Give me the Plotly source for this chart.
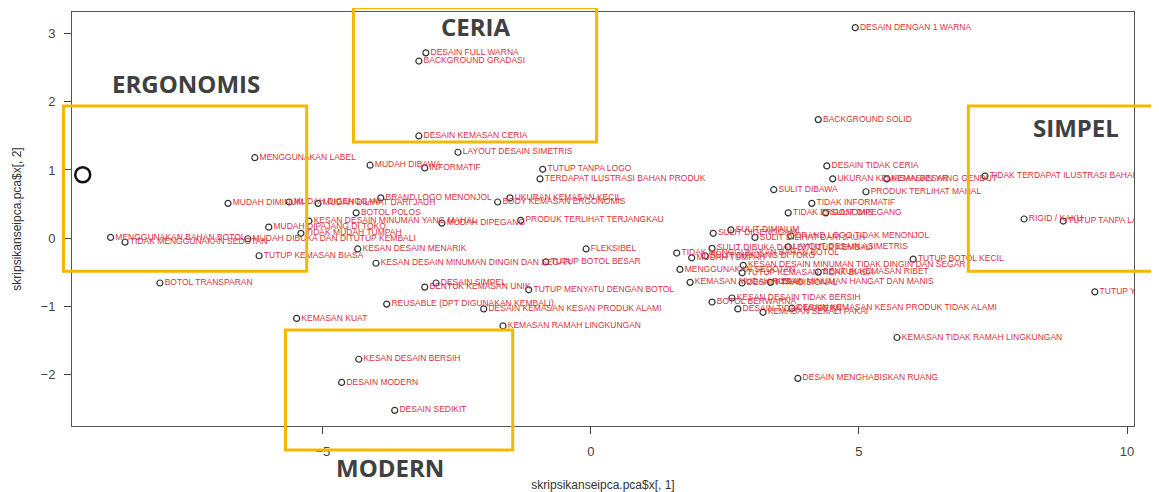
import plotly.graph_objects as go

# PCA scores (PC1, PC2)
labels = [
    "DESAIN DENGAN 1 WARNA", "DESAIN FULL WARNA", "BACKGROUND GRADASI", "DESAIN KEMASAN CERIA",
    "LAYOUT DESAIN SIMETRIS", "BACKGROUND SOLID", "MENGGUNAKAN LABEL", "MUDAH DIBAWA", "INFORMATIF",
    "TUTUP TANPA LOGO", "TERDAPAT ILUSTRASI BAHAN PRODUK", "DESAIN TIDAK CERIA", "UKURAN KEMASAN BESAR",
    "KEMASAN YANG GENDUT", "TIDAK TERDAPAT ILUSTRASI BAHAN PRODUK", "SULIT DIBAWA", "PRODUK TERLIHAT MAHAL",
    "TIDAK INFORMATIF", "TIDAK ERGONOMIS", "SULIT DIPEGANG", "RIGID / KAKU", "TUTUP TANPA LABEL",
    "TUTUP YANG RIBET", "MUDAH DIMINUM", "MUDAH DIGENGGAM", "MUDAH DILIHAT DARI JAUH", "BRAND LOGO MENONJOL",
    "BOTOL POLOS", "KESAN DESAIN MINUMAN YANG MAHAL", "MUDAH DIPEGANG", "PRODUK TERLIHAT TERJANGKAU",
    "UKURAN KEMASAN KECIL", "BODY KEMASAN ERGONOMIS", "MUDAH DIPAJANG DI TOKO", "TIDAK MUDAH TUMPAH",
    "MUDAH DIBUKA DAN DITUTUP KEMBALI", "MENGGUNAKAN BAHAN BOTOL", "TIDAK MENGGUNAKAN SEDOTAN",
    "TUTUP KEMASAN BIASA", "KESAN DESAIN MENARIK", "KESAN DESAIN MINUMAN DINGIN DAN SEGAR",
    "BOTOL TRANSPARAN", "FLEKSIBEL", "TUTUP BOTOL BESAR", "DESAIN SIMPEL", "BENTUK KEMASAN UNIK",
    "TUTUP MENYATU DENGAN BOTOL", "REUSABLE (DPT DIGUNAKAN KEMBALI)", "DESAIN KEMASAN KESAN PRODUK ALAMI",
    "KEMASAN RAMAH LINGKUNGAN", "KEMASAN KUAT", "KESAN DESAIN BERSIH", "DESAIN MODERN", "DESAIN SEDIKIT",
    "SULIT DIGENGGAM", "SULIT DIMINUM", "SULIT DILIHAT DARI JAUH", "BRAND LOGO TIDAK MENONJOL",
    "SULIT DIBUKA DAN DITUTUP KEMBALI", "LAYOUT DESAIN ASIMETRIS", "TIDAK MENGGUNAKAN BAHAN BOTOL",
    "MUDAH TUMPAH", "SULIT DIPAJANG DI TOKO", "MENGGUNAKAN SEDOTAN",
    "KESAN DESAIN MINUMAN TIDAK DINGIN DAN SEGAR", "TUTUP KEMASAN TIDAK BIASA", "BENTUK KEMASAN RIBET",
    "TUTUP BOTOL KECIL", "KEMASAN MUDAH RUSAK", "DESAIN TRADISIONAL", "KESAN MINUMAN HANGAT DAN MANIS",
    "BOTOL BERWARNA", "KESAN DESAIN TIDAK BERSIH", "DESAIN TIDAK MODERN", "KEMASAN SEKALI PAKAI",
    "DESAIN KEMASAN KESAN PRODUK TIDAK ALAMI", "KEMASAN TIDAK RAMAH LINGKUNGAN", "DESAIN MENGHABISKAN RUANG",
]
pc1 = [
    4.93, -3.08, -3.21, -3.21, -2.48, 4.24, -6.27, -4.12, -3.10, -0.90, -0.95, 4.40, 4.51,
    5.52, 7.35, 3.41, 5.13, 4.12, 3.68, 4.38, 8.08, 8.81, 9.40, -6.77, -5.63, -5.09, -3.92,
    -4.38, -5.26, -2.78, -1.31, -1.51, -1.74, -6.01, -5.41, -6.40, -8.96, -8.69, -6.19, -4.35,
    -4.01, -8.04, -0.09, -0.84, -2.89, -3.10, -1.16, -3.81, -2.00, -1.64, -5.49, -4.33, -4.65,
    -3.66, 2.28, 2.61, 3.06, 3.73, 2.26, 3.68, 1.60, 1.88, 2.13, 1.66, 2.84, 2.82, 4.24, 6.01,
    1.85, 2.82, 3.35, 2.26, 2.63, 2.74, 3.21, 3.75, 5.71, 3.86,
]
pc2 = [
    3.09, 2.72, 2.60, 1.50, 1.26, 1.74, 1.18, 1.07, 1.03, 1.01, 0.87, 1.06, 0.87,
    0.87, 0.91, 0.71, 0.68, 0.51, 0.37, 0.37, 0.28, 0.25, -0.79, 0.51, 0.53, 0.51, 0.59,
    0.37, 0.25, 0.22, 0.26, 0.59, 0.53, 0.16, 0.07, -0.01, 0.01, -0.06, -0.26, -0.16,
    -0.37, -0.66, -0.16, -0.35, -0.66, -0.72, -0.76, -0.97, -1.04, -1.29, -1.18, -1.78, -2.12,
    -2.53, 0.07, 0.12, 0.01, 0.03, -0.15, -0.13, -0.22, -0.29, -0.26, -0.46, -0.40, -0.51, -0.50, -0.31,
    -0.65, -0.66, -0.65, -0.94, -0.88, -1.04, -1.09, -1.03, -1.46, -2.06,
]

# hand-drawn marker on the left
outlier_x = [-9.48]
outlier_y = [0.93]

# highlighted groups: name, label position (paper), box (paper x0, y0, x1, y1)
groups = [
    ("CERIA", 0.380, 0.964, (0.265, 0.686, 0.494, 1.01)),
    ("ERGONOMIS", 0.107, 0.828, (-0.008, 0.374, 0.221, 0.773)),
    ("SIMPEL", 0.945, 0.720, (0.844, 0.374, 1.05, 0.773)),
    ("MODERN", 0.299, -0.100, (0.201, -0.058, 0.415, 0.232)),
]

fig = go.Figure()
fig.add_trace(go.Scatter(
    x=pc1, y=pc2, mode="markers+text", text=labels, textposition="middle right",
    textfont=dict(family="Liberation Sans, Arial", size=8.5, color="#d8323c"),
    marker=dict(symbol="circle-open", size=6, color="#333333", line=dict(width=1.2)),
    hoverinfo="text", showlegend=False,
))
fig.add_trace(go.Scatter(
    x=outlier_x, y=outlier_y, mode="markers",
    marker=dict(symbol="circle-open", size=15, color="#111111", line=dict(width=2.5)),
    showlegend=False,
))

for name, tx, ty, (x0, y0, x1, y1) in groups:
    fig.add_shape(type="rect", xref="paper", yref="paper", x0=x0, y0=y0, x1=x1, y1=y1,
                  line=dict(color="#f5b800", width=3))
    fig.add_annotation(text=f"<b>{name}</b>", xref="paper", yref="paper", x=tx, y=ty,
                       xanchor="center", yanchor="middle", showarrow=False,
                       font=dict(family="Open Sans, Lato", size=24, color="#404040"))

axis_font = dict(family="Liberation Sans, Arial", size=13, color="#444444")
title_font = dict(family="Liberation Sans, Arial", size=12, color="#333333")
fig.update_xaxes(range=[-9.68, 10.13], tickvals=[-5, 0, 5, 10], ticks="outside", ticklen=7,
                 showline=True, linecolor="#555555", mirror=True, showgrid=False, zeroline=False,
                 tickfont=axis_font, automargin=False, ticklabelstandoff=6,
                 title=dict(text="skripsikanseipca.pca$x[, 1]", standoff=28, font=title_font))
fig.update_yaxes(range=[-2.76, 3.32], tickvals=[-2, -1, 0, 1, 2, 3], ticks="outside", ticklen=7,
                 showline=True, linecolor="#555555", mirror=True, showgrid=False, zeroline=False,
                 tickfont=axis_font, automargin=False, ticklabelstandoff=6,
                 title=dict(text="skripsikanseipca.pca$x[, 2]", standoff=16, font=title_font))
# page body adds an 8px margin, so the figure is 8px smaller and the plot area keeps its place
fig.update_layout(width=1151, height=484, plot_bgcolor="white", paper_bgcolor="white",
                  margin=dict(l=64, r=25, t=4, b=66))
fig.write_html("out.html")
